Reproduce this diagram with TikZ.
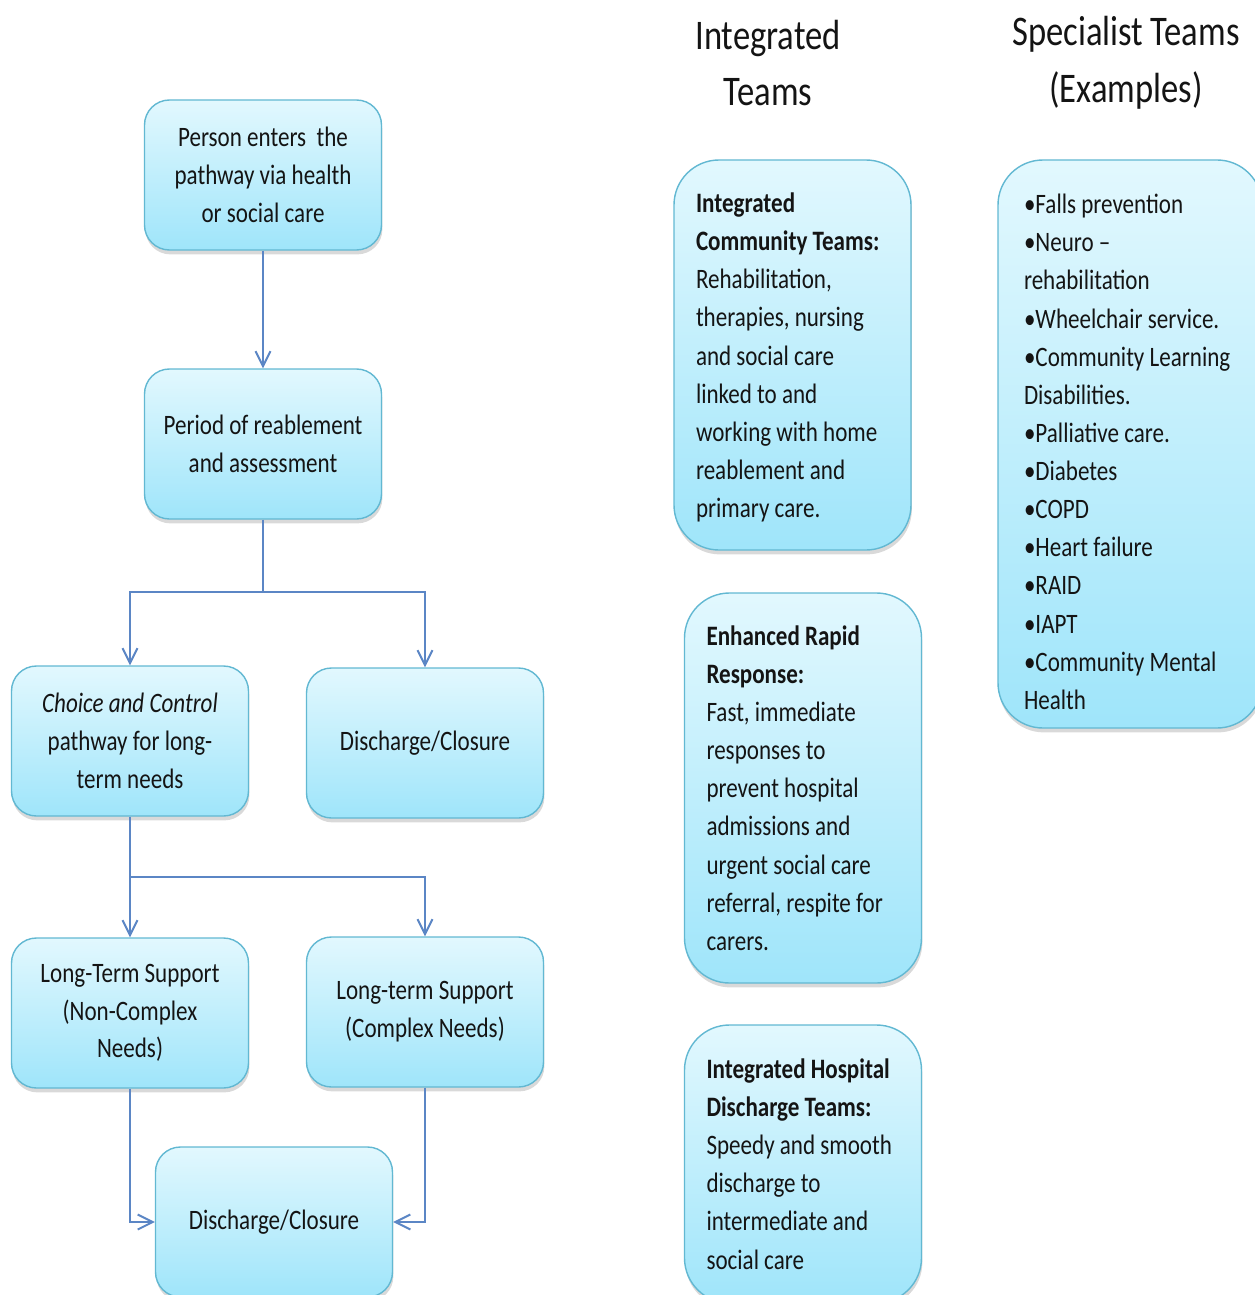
\documentclass[tikz,border=0pt]{standalone}
\usepackage{fontspec}
\setmainfont[FakeStretch=0.82]{Carlito}
\usetikzlibrary{arrows.meta, shadows}

\begin{document}
\begin{tikzpicture}[x=0.2mm, y=-0.2mm]
    % Define colours
    \definecolor{borderColour}{HTML}{62B8D2}
    \definecolor{topColour}{HTML}{E2F8FE}
    \definecolor{bottomColour}{HTML}{9FE5FA}
    \definecolor{arrowColour}{HTML}{5B86C5}
    \definecolor{textColour}{HTML}{141414}

    % Define box sizes
    \def\boxWidth{4.74cm}
    \def\boxHeight{3cm}

    \tikzset{
        stage/.style={draw=borderColour, thick, rounded corners=0.5cm,
            top color=topColour, bottom color=bottomColour,
            minimum width=\boxWidth, minimum height=\boxHeight,
            align=center, text=textColour, font=\fontsize{16}{21.5}\selectfont,
            drop shadow={shadow xshift=0.5pt, shadow yshift=-2.5pt, opacity=0.3}},
        team/.style={stage, rounded corners=0.9cm, align=flush left,
            text width=3.86cm, inner xsep=0.44cm, minimum height=7.8cm,
            font=\fontsize{16}{21.7}\selectfont},
        heading/.style={align=center, text=textColour, font=\fontsize{24}{32.3}\selectfont},
        arr/.style={-{Straight Barb[length=0.3cm, width=0.3cm]}, draw=arrowColour, line width=1.1pt},
        link/.style={draw=arrowColour, line width=1.1pt}
    }

    % Fix the picture size
    \useasboundingbox (0,0) rectangle (1255,1295);
    \clip (0,0) rectangle (1255,1295);

    % Draw the pathway
    \node[stage] (enter) at (263,175) {Person enters\ \ the\\pathway via health\\or social care};
    \node[stage] (reab) at (263,444) {Period of reablement\\and assessment};
    \node[stage] (choice) at (130,741) {\textit{Choice and Control}\\pathway for long-\\term needs};
    \node[stage] (closeA) at (425,743) {Discharge/Closure};
    \node[stage] (nonComplex) at (130,1013) {Long-Term Support\\(Non-Complex\\Needs)};
    \node[stage] (complex) at (425,1012) {Long-term Support\\(Complex Needs)};
    \node[stage] (closeB) at (274,1222) {Discharge/Closure};

    % Split points of the connectors
    \coordinate (splitA) at (263,592);
    \coordinate (splitB) at (130,877);

    % Draw the connectors
    \draw[arr] (enter) -- (reab);
    \draw[link] (reab) -- (splitA);
    \draw[arr] (splitA) -| (choice);
    \draw[arr] (splitA) -| (closeA);
    \draw[link] (choice) -- (splitB);
    \draw[arr] (splitB) -| (nonComplex);
    \draw[arr] (splitB) -| (complex);
    \draw[arr] (nonComplex) |- (closeB);
    \draw[arr] (complex) |- (closeB);

    % Column headings
    \node[heading] (intHead) at (768,63) {Integrated\\Teams};
    \node[heading] (specHead) at (1126,63) {Specialist Teams\\(Examples)};

    % Integrated teams
    \node[team] (community) at (792.5,355) {\rule{0pt}{14pt}\textbf{Integrated}\\\textbf{Community Teams:}\\Rehabilitation,\\therapies, nursing\\and social care\\linked to and\\working with home\\reablement and\\primary care.};
    \node[team] (rapid) at (803,788) {\textbf{Enhanced Rapid}\\\textbf{Response:}\\Fast, immediate\\responses to\\prevent hospital\\admissions and\\urgent social care\\referral, respite for\\carers.};
    \node[team, minimum height=5.56cm] (hospital) at (803,1164) {\textbf{Integrated Hospital}\\\textbf{Discharge Teams:}\\Speedy and smooth\\discharge to\\intermediate and\\social care};

    % Specialist teams
    \node[team, text width=4.24cm, inner xsep=0.52cm, minimum height=11.36cm] (specialist) at (1130,444) {\rule{0pt}{20pt}•Falls prevention\\•Neuro –\\rehabilitation\\•Wheelchair service.\\•Community Learning\\Disabilities.\\•Palliative care.\\•Diabetes\\•COPD\\•Heart failure\\•RAID\\•IAPT\\•Community Mental\\Health};
\end{tikzpicture}
\end{document}
